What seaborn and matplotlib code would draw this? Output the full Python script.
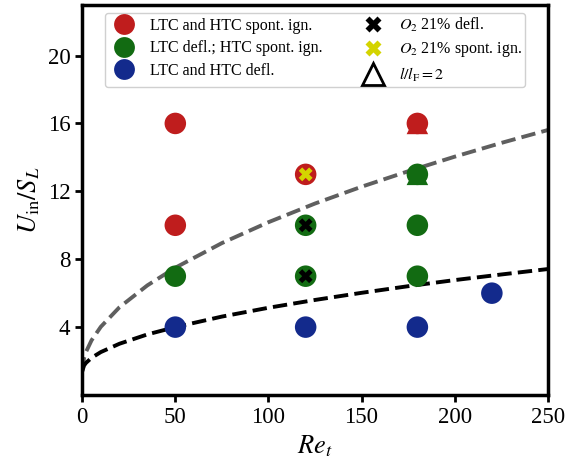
import numpy as np
import pandas as pd
import matplotlib
matplotlib.use("Agg")
import matplotlib.pyplot as plt
import seaborn as sns
from matplotlib.lines import Line2D

sns.set_style("ticks", {"axes.edgecolor": "black", "xtick.color": "black", "ytick.color": "black",
                        "text.color": "black", "axes.labelcolor": "black"})
plt.rcParams["font.family"] = ["Liberation Serif", "DejaVu Serif"]
plt.rcParams["mathtext.fontset"] = "stix"

# data
red_re = [50, 50, 120, 180]
red_u = [16, 10, 13, 16]
green_re = [50, 120, 120, 180, 180, 180]
green_u = [7, 10, 7, 13, 10, 7]
blue_re = [50, 120, 180, 220]
blue_u = [4, 4, 4, 6]
blackx_re = [120, 120]
blackx_u = [10, 7]
yellowx_re = [120]
yellowx_u = [13]
tri_re = [180, 180]
tri_u = [16, 13]
tri_col = ["#bf1d1d", "#126b12"]

curve_re = [0, 1, 2, 5, 10, 20, 35, 50, 75, 100, 125, 150, 175, 200, 225, 250]
gray_u = [1.4, 2.18, 2.53, 3.22, 4.02, 5.17, 6.46, 7.5, 8.95, 10.18, 11.28, 12.27, 13.18, 14.04, 14.85, 15.61]
black_u = [1.4, 1.74, 1.89, 2.19, 2.53, 3.02, 3.57, 4.0, 4.62, 5.14, 5.60, 6.02, 6.41, 6.77, 7.10, 7.42]

red = "#bf1d1d"
green = "#126b12"
blue = "#132a8c"
yellow = "#d4d400"

fig, ax = plt.subplots(figsize=(5.67, 4.62), dpi=100)
fig.subplots_adjust(left=0.145, right=0.966, bottom=0.145, top=0.99)

curves = pd.DataFrame({"Re": curve_re, "gray": gray_u, "black": black_u})
sns.lineplot(data=curves, x="Re", y="gray", ax=ax, color="#5f5f5f", lw=2.8, linestyle="--", zorder=1)
sns.lineplot(data=curves, x="Re", y="black", ax=ax, color="black", lw=2.8, linestyle="--", zorder=1)

ms = 240
# triangles sit behind the circles
for r, u, c in zip(tri_re, tri_u, tri_col):
    ax.scatter([r], [u], marker="^", s=ms, color=c, edgecolor="none", zorder=2)

sns.scatterplot(x=red_re, y=red_u, ax=ax, color=red, s=ms, edgecolor="none", zorder=3)
sns.scatterplot(x=green_re, y=green_u, ax=ax, color=green, s=ms, edgecolor="none", zorder=3)
sns.scatterplot(x=blue_re, y=blue_u, ax=ax, color=blue, s=ms, edgecolor="none", zorder=3)
sns.scatterplot(x=blackx_re, y=blackx_u, ax=ax, color="black", marker="X", s=100, edgecolor="none", zorder=4)
sns.scatterplot(x=yellowx_re, y=yellowx_u, ax=ax, color=yellow, marker="X", s=100, edgecolor="none", zorder=4)

ax.set_xlim(0, 250)
ax.set_ylim(0, 23)
ax.set_xticks([0, 50, 100, 150, 200, 250])
ax.set_yticks([4, 8, 12, 16, 20])
ax.tick_params(labelsize=16.5, width=2, length=5, direction="out", colors="black")
for s in ax.spines.values():
    s.set_linewidth(2.5)
    s.set_color("black")
ax.set_xlabel(r"$Re_t$", fontsize=19)
ax.set_ylabel(r"$U_{\rm in}/S_L$", fontsize=19)

handles = [
    Line2D([], [], marker="o", ls="", color=red, markersize=15, mec="none"),
    Line2D([], [], marker="o", ls="", color=green, markersize=15, mec="none"),
    Line2D([], [], marker="o", ls="", color=blue, markersize=15, mec="none"),
    Line2D([], [], marker="X", ls="", color="black", markersize=11, mec="none"),
    Line2D([], [], marker="X", ls="", color=yellow, markersize=11, mec="none"),
    Line2D([], [], marker="^", ls="", mfc="white", mec="black", mew=2, markersize=16),
]
labels = [
    "LTC and HTC spont. ign.",
    "LTC defl.; HTC spont. ign.",
    "LTC and HTC defl.",
    r"$O_2$ 21% defl.",
    r"$O_2$ 21% spont. ign.",
    r"$l/l_{\rm F} = 2$",
]
ax.legend(handles, labels, ncol=2, loc="upper center", fontsize=11.5, frameon=True,
          framealpha=1, edgecolor="#d0d0d0", handletextpad=0.6, columnspacing=2.2,
          labelspacing=0.4, borderpad=0.2, bbox_to_anchor=(0.5, 1.0))

plt.savefig("out.png", dpi=100)
